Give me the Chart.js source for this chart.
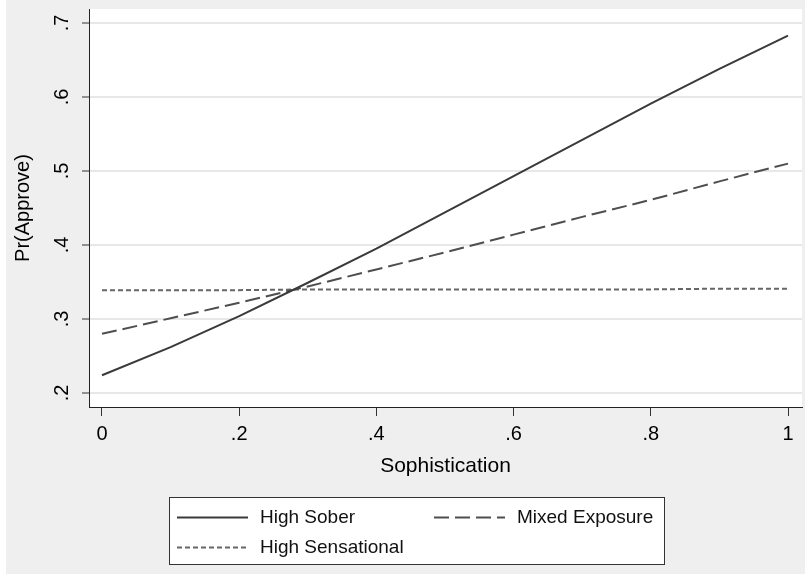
<!DOCTYPE html>
<html>
<head>
<meta charset="utf-8">
<script src="https://cdn.jsdelivr.net/npm/chart.js@4/dist/chart.umd.min.js"></script>
<style>
  html, body { margin: 0; padding: 0; background: #ffffff; }
  #wrap { width: 805px; height: 574px; }
  canvas { display: block; }
</style>
</head>
<body>
<div id="wrap"><canvas id="c" width="805" height="574"></canvas></div>
<script>
// ---- Data ----
const sophistication = [0, 0.1, 0.2, 0.3, 0.4, 0.5, 0.6, 0.7, 0.8, 0.9, 1];
const highSober      = [0.224, 0.262, 0.304, 0.349, 0.395, 0.444, 0.493, 0.542, 0.591, 0.638, 0.683];
const mixedExposure  = [0.280, 0.301, 0.322, 0.344, 0.367, 0.390, 0.414, 0.438, 0.461, 0.486, 0.510];
const highSensational= [0.339, 0.339, 0.339, 0.340, 0.340, 0.340, 0.340, 0.340, 0.340, 0.341, 0.341];
const seriesLabels   = ['High Sober', 'Mixed Exposure', 'High Sensational'];
const xTickValues    = [0, 0.2, 0.4, 0.6, 0.8, 1];
const xTickLabels    = ['0', '.2', '.4', '.6', '.8', '1'];
const yTickValues    = [0.2, 0.3, 0.4, 0.5, 0.6, 0.7];
const yTickLabels    = ['.2', '.3', '.4', '.5', '.6', '.7'];
const xTitle = 'Sophistication';
const yTitle = 'Pr(Approve)';

const FONT = '"Liberation Sans", Arial, Helvetica, sans-serif';
const toPoints = ys => sophistication.map((x, i) => ({ x: x, y: ys[i] }));

const bgPlugin = {
  id: 'bg',
  beforeDraw(chart) {
    const { ctx, chartArea: a } = chart;
    ctx.save();
    ctx.fillStyle = '#ffffff';
    ctx.fillRect(0, 0, chart.width, chart.height);
    ctx.fillStyle = '#efefef';
    ctx.fillRect(6, 0, chart.width - 6, chart.height);
    ctx.fillStyle = '#ffffff';
    ctx.fillRect(a.left, a.top, a.right - a.left, a.bottom - a.top);
    ctx.restore();
  }
};

const legendPlugin = {
  id: 'boxLegend',
  afterDraw(chart) {
    const ctx = chart.ctx;
    ctx.save();
    ctx.fillStyle = '#ffffff';
    ctx.fillRect(169.5, 497.5, 495, 67);
    ctx.strokeStyle = '#333333';
    ctx.lineWidth = 1;
    ctx.strokeRect(169.5, 497.5, 495, 67);
    chart.data.datasets.forEach((ds, i) => {
      const col = i % 2, row = Math.floor(i / 2);
      const sx = 177 + col * 257;
      const y = 517 + row * 30;
      ctx.beginPath();
      ctx.setLineDash(ds.borderDash || []);
      ctx.strokeStyle = ds.borderColor;
      ctx.lineWidth = ds.borderWidth;
      ctx.moveTo(sx, y + 0.5);
      ctx.lineTo(sx + 71, y + 0.5);
      ctx.stroke();
      ctx.setLineDash([]);
      ctx.fillStyle = '#111111';
      ctx.font = '19px ' + FONT;
      ctx.textBaseline = 'middle';
      ctx.textAlign = 'left';
      ctx.fillText(ds.label, sx + 83, y + 1);
    });
    ctx.restore();
  }
};

new Chart(document.getElementById('c'), {
  type: 'line',
  data: {
    datasets: [
      { label: seriesLabels[0], data: toPoints(highSober), borderColor: '#3a3a3a', borderWidth: 2, borderDash: [], pointRadius: 0, fill: false },
      { label: seriesLabels[1], data: toPoints(mixedExposure), borderColor: '#4e4e4e', borderWidth: 2, borderDash: [15, 6], pointRadius: 0, fill: false },
      { label: seriesLabels[2], data: toPoints(highSensational), borderColor: '#666666', borderWidth: 2, borderDash: [5, 3], pointRadius: 0, fill: false }
    ]
  },
  options: {
    responsive: false,
    devicePixelRatio: 1,
    animation: false,
    layout: { padding: { left: 0, right: 3, top: 9, bottom: 94 } },
    plugins: { legend: { display: false }, tooltip: { enabled: false } },
    scales: {
      x: {
        type: 'linear',
        min: -0.01895,
        max: 1.0204,
        afterBuildTicks: s => { s.ticks = xTickValues.map(v => ({ value: v })); },
        afterFit: s => { s.height = 73; s.paddingLeft = 0; s.paddingRight = 0; },
        ticks: {
          autoSkip: false,
          maxRotation: 0,
          padding: 6,
          color: '#000000',
          font: { family: FONT, size: 20 },
          callback: (v, i) => xTickLabels[i]
        },
        grid: { drawOnChartArea: false, drawTicks: true, tickLength: 9, tickColor: '#333333', tickWidth: 1 },
        border: { display: true, color: '#222222', width: 1 },
        title: { display: true, text: xTitle, color: '#000000', font: { family: FONT, size: 21 }, padding: { top: 0, bottom: 1 } }
      },
      y: {
        type: 'linear',
        min: 0.1811,
        max: 0.7189,
        afterBuildTicks: s => { s.ticks = yTickValues.map(v => ({ value: v })); },
        afterFit: s => { s.width = 89; s.paddingTop = 0; s.paddingBottom = 0; },
        ticks: {
          autoSkip: false,
          minRotation: 90,
          maxRotation: 90,
          crossAlign: 'center',
          padding: 11,
          color: '#000000',
          font: { family: FONT, size: 20 },
          callback: (v, i) => yTickLabels[i]
        },
        grid: { color: '#e8e8e8', lineWidth: 2, drawTicks: true, tickLength: 7, tickColor: '#333333', tickWidth: 1 },
        border: { display: true, color: '#222222', width: 1 },
        title: { display: true, text: yTitle, color: '#000000', font: { family: FONT, size: 20 }, padding: { top: 11, bottom: 0 } }
      }
    }
  },
  plugins: [bgPlugin, legendPlugin]
});
</script>
</body>
</html>
